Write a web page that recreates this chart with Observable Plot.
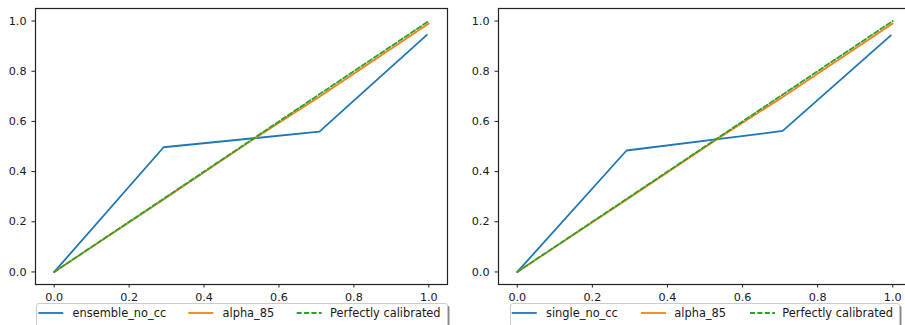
<!DOCTYPE html>
<html>
<head>
<meta charset="utf-8">
<script src="https://cdn.jsdelivr.net/npm/d3@7"></script>
<script src="https://cdn.jsdelivr.net/npm/@observablehq/plot@0.6"></script>
<style>
  html, body { margin: 0; padding: 0; background: #fff; }
  #wrap { position: relative; width: 905px; height: 325px; overflow: hidden; background: #fff; }
  .panel { position: absolute; top: 0; }
  .legend { position: absolute; overflow: visible; }
</style>
</head>
<body>
<div id="wrap"></div>
<script>
// ---- data ----
const xTicks = [0.0, 0.2, 0.4, 0.6, 0.8, 1.0];
const yTicks = [0.0, 0.2, 0.4, 0.6, 0.8, 1.0];

const seriesNames = ["ensemble_no_cc", "single_no_cc", "alpha_85", "Perfectly calibrated"];

// left panel
const ensembleX = [0.0, 0.292, 0.708, 0.995];
const ensembleY = [0.0, 0.497, 0.559, 0.945];
// right panel
const singleX = [0.0, 0.291, 0.707, 0.995];
const singleY = [0.0, 0.484, 0.562, 0.943];
// shared
const alphaX = [0.0, 0.29, 0.54, 0.71, 1.0];
const alphaY = [0.0, 0.287, 0.537, 0.700, 0.990];
const perfectX = [0.0, 1.0];
const perfectY = [0.0, 1.0];

const colors = {blue: "#1f77b4", orange: "#ff7f0e", green: "#2ca02c"};

function toRows(xs, ys) { return xs.map((x, i) => ({x, y: ys[i]})); }

function panel(mainX, mainY, opts) {
  return Plot.plot({
    width: opts.width,
    height: 325,
    marginLeft: opts.marginLeft,
    marginRight: opts.marginRight,
    marginTop: 8,
    marginBottom: 41,
    style: {fontFamily: "DejaVu Sans", fontSize: "11.2px", color: "#1a1a1a", background: "#fff", overflow: "visible"},
    x: {domain: [-0.05, 1.05]},
    y: {domain: [-0.05, 1.05]},
    marks: [
      Plot.axisX({ticks: xTicks, tickFormat: d => d.toFixed(1), tickSize: 3.5, tickPadding: 5.5, label: null, stroke: "#222"}),
      Plot.axisY({ticks: yTicks, tickFormat: d => d.toFixed(1), tickSize: 3.5, tickPadding: 5.5, label: null, stroke: "#222"}),
      Plot.line(toRows(mainX, mainY), {x: "x", y: "y", stroke: colors.blue, strokeWidth: 1.8}),
      Plot.line(toRows(alphaX, alphaY), {x: "x", y: "y", stroke: colors.orange, strokeWidth: 1.8}),
      Plot.line(toRows(perfectX, perfectY), {x: "x", y: "y", stroke: colors.green, strokeWidth: 1.8, strokeDasharray: "5,2.4"}),
      Plot.frame({stroke: "#222", strokeWidth: 1.2})
    ]
  });
}

const wrap = document.getElementById("wrap");

const left = panel(ensembleX, ensembleY, {width: 452, marginLeft: 35, marginRight: 5});
left.classList.add("panel"); left.style.left = "0px";
wrap.appendChild(left);

const right = panel(singleX, singleY, {width: 460, marginLeft: 46, marginRight: 1});
right.classList.add("panel"); right.style.left = "452px";
wrap.appendChild(right);

function legend(left, width, items) {
  const svg = d3.create("svg")
    .attr("class", "legend")
    .attr("width", width + 4).attr("height", 30)
    .style("left", left + "px").style("top", "303px");
  // shadow
  svg.append("rect").attr("x", 2.5).attr("y", 2.5).attr("width", width).attr("height", 26)
    .attr("rx", 2.5).attr("fill", "#888");
  svg.append("rect").attr("x", 0.5).attr("y", 0.5).attr("width", width).attr("height", 26)
    .attr("rx", 2.5).attr("fill", "#fff").attr("stroke", "#cccccc");
  for (const it of items) {
    svg.append("line").attr("x1", it.lx).attr("x2", it.lx + 25).attr("y1", 10).attr("y2", 10)
      .attr("stroke", it.color).attr("stroke-width", 1.8)
      .attr("stroke-dasharray", it.dash || null);
    svg.append("text").attr("x", it.tx).attr("y", 14.2).text(it.label)
      .attr("font-family", "DejaVu Sans").attr("font-size", "11.4px").attr("fill", "#1a1a1a");
  }
  wrap.appendChild(svg.node());
}

legend(36, 411, [
  {lx: 2.3, tx: 36.5, color: colors.blue, label: seriesNames[0]},
  {lx: 152.3, tx: 186.5, color: colors.orange, label: seriesNames[2]},
  {lx: 260.7, tx: 294, color: colors.green, label: seriesNames[3], dash: "5,2.4"}
]);
legend(510, 389, [
  {lx: 1.7, tx: 36, color: colors.blue, label: seriesNames[1]},
  {lx: 131, tx: 164.3, color: colors.orange, label: seriesNames[2]},
  {lx: 240, tx: 272.3, color: colors.green, label: seriesNames[3], dash: "5,2.4"}
]);
</script>
</body>
</html>
